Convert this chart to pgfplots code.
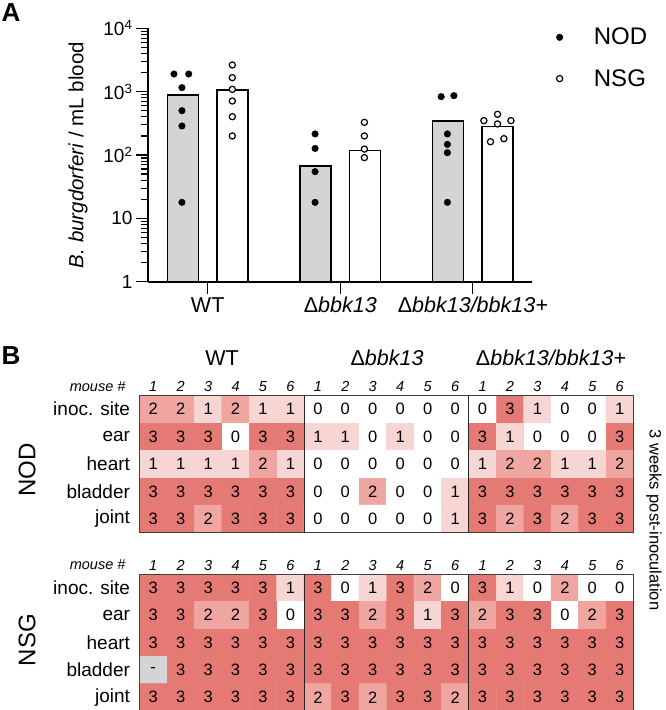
\documentclass[border=0pt]{standalone}
\usepackage{pgfplots}
\pgfplotsset{compat=1.18}
\usepackage{pgfplotstable}
\usepackage{fontspec}
\setmainfont{Liberation Sans}
\newcommand{\fs}[1]{\fontsize{#1}{#1}\selectfont}
\definecolor{barg}{RGB}{212,212,212}

\pgfplotstableread[row sep=\\]{
x y c l\\
1 1 2 2\\ 2 1 2 2\\ 3 1 1 1\\ 4 1 2 2\\ 5 1 1 1\\ 6 1 1 1\\ 7 1 0 0\\ 8 1 0 0\\ 9 1 0 0\\ 10 1 0 0\\ 11 1 0 0\\ 12 1 0 0\\ 13 1 0 0\\ 14 1 3 3\\ 15 1 1 1\\ 16 1 0 0\\ 17 1 0 0\\ 18 1 1 1\\
1 2 3 3\\ 2 2 3 3\\ 3 2 3 3\\ 4 2 0 0\\ 5 2 3 3\\ 6 2 3 3\\ 7 2 1 1\\ 8 2 1 1\\ 9 2 0 0\\ 10 2 1 1\\ 11 2 0 0\\ 12 2 0 0\\ 13 2 3 3\\ 14 2 1 1\\ 15 2 0 0\\ 16 2 0 0\\ 17 2 0 0\\ 18 2 3 3\\
1 3 1 1\\ 2 3 1 1\\ 3 3 1 1\\ 4 3 1 1\\ 5 3 2 2\\ 6 3 1 1\\ 7 3 0 0\\ 8 3 0 0\\ 9 3 0 0\\ 10 3 0 0\\ 11 3 0 0\\ 12 3 0 0\\ 13 3 1 1\\ 14 3 2 2\\ 15 3 2 2\\ 16 3 1 1\\ 17 3 1 1\\ 18 3 2 2\\
1 4 3 3\\ 2 4 3 3\\ 3 4 3 3\\ 4 4 3 3\\ 5 4 3 3\\ 6 4 3 3\\ 7 4 0 0\\ 8 4 0 0\\ 9 4 2 2\\ 10 4 0 0\\ 11 4 0 0\\ 12 4 1 1\\ 13 4 3 3\\ 14 4 3 3\\ 15 4 3 3\\ 16 4 3 3\\ 17 4 3 3\\ 18 4 3 3\\
1 5 3 3\\ 2 5 3 3\\ 3 5 2 2\\ 4 5 3 3\\ 5 5 3 3\\ 6 5 3 3\\ 7 5 0 0\\ 8 5 0 0\\ 9 5 0 0\\ 10 5 0 0\\ 11 5 0 0\\ 12 5 1 1\\ 13 5 3 3\\ 14 5 2 2\\ 15 5 3 3\\ 16 5 2 2\\ 17 5 3 3\\ 18 5 3 3\\
}\nodtab

\pgfplotstableread[row sep=\\]{
x y c l\\
1 1 3 3\\ 2 1 3 3\\ 3 1 3 3\\ 4 1 3 3\\ 5 1 3 3\\ 6 1 1 1\\ 7 1 3 3\\ 8 1 0 0\\ 9 1 1 1\\ 10 1 3 3\\ 11 1 2 2\\ 12 1 0 0\\ 13 1 3 3\\ 14 1 1 1\\ 15 1 0 0\\ 16 1 2 2\\ 17 1 0 0\\ 18 1 0 0\\
1 2 3 3\\ 2 2 3 3\\ 3 2 2 2\\ 4 2 2 2\\ 5 2 3 3\\ 6 2 0 0\\ 7 2 3 3\\ 8 2 3 3\\ 9 2 2 2\\ 10 2 3 3\\ 11 2 1 1\\ 12 2 3 3\\ 13 2 2 2\\ 14 2 3 3\\ 15 2 3 3\\ 16 2 0 0\\ 17 2 2 2\\ 18 2 3 3\\
1 3 3 3\\ 2 3 3 3\\ 3 3 3 3\\ 4 3 3 3\\ 5 3 3 3\\ 6 3 3 3\\ 7 3 3 3\\ 8 3 3 3\\ 9 3 3 3\\ 10 3 3 3\\ 11 3 3 3\\ 12 3 3 3\\ 13 3 3 3\\ 14 3 3 3\\ 15 3 3 3\\ 16 3 3 3\\ 17 3 3 3\\ 18 3 3 3\\
1 4 4 -\\ 2 4 3 3\\ 3 4 3 3\\ 4 4 3 3\\ 5 4 3 3\\ 6 4 3 3\\ 7 4 3 3\\ 8 4 3 3\\ 9 4 3 3\\ 10 4 3 3\\ 11 4 3 3\\ 12 4 3 3\\ 13 4 3 3\\ 14 4 3 3\\ 15 4 3 3\\ 16 4 3 3\\ 17 4 3 3\\ 18 4 3 3\\
1 5 3 3\\ 2 5 3 3\\ 3 5 3 3\\ 4 5 3 3\\ 5 5 3 3\\ 6 5 3 3\\ 7 5 2 2\\ 8 5 3 3\\ 9 5 2 2\\ 10 5 3 3\\ 11 5 3 3\\ 12 5 2 2\\ 13 5 3 3\\ 14 5 3 3\\ 15 5 3 3\\ 16 5 3 3\\ 17 5 3 3\\ 18 5 3 3\\
}\nsgtab

\pgfplotsset{
  heat/.style={
    scale only axis, width=494pt, height=137pt,
    xmin=0.5, xmax=18.5, ymin=0.5, ymax=5.5, y dir=reverse,
    enlargelimits=false, axis on top,
    axis line style={draw=black!75, line width=1pt},
    xtick={1,...,18},
    xticklabels={1,2,3,4,5,6,1,2,3,4,5,6,1,2,3,4,5,6},
    xticklabel pos=upper,
    ytick={1,...,5},
    yticklabels={inoc. site, ear, heart, bladder, joint},
    major tick length=0pt, tick style={draw=none},
    xticklabel style={font=\itshape\fs{14.5}},
    yticklabel style={font=\fs{19}, xshift=-6pt},
    extra x ticks={6.5,12.5}, extra x tick labels={},
    extra x tick style={grid=major, major grid style={draw=black!85, line width=1pt}},
    colormap={hm}{rgb255=(255,255,255) rgb255=(247,213,211) rgb255=(239,166,161) rgb255=(229,121,115) rgb255=(212,212,212)},
    colormap access=direct,
  }
}

\begin{document}
\begin{tikzpicture}
\path[use as bounding box] (0,0) rectangle (666pt,-710pt);

\node[font=\bfseries\fs{26}] at (11pt,-13pt) {A};
\node[font=\bfseries\fs{26}] at (11pt,-356pt) {B};

\begin{axis}[
  at={(148pt,-281.7pt)}, anchor=south west,
  scale only axis, width=384pt, height=253.4pt,
  ymode=log, ymin=1, ymax=10000,
  xmin=-0.45, xmax=2.446,
  axis x line*=bottom, axis y line*=left,
  axis line style={line width=1.6pt},
  tick align=outside,
  major tick length=12pt, minor tick length=7pt,
  tick style={line width=1.2pt, black},
  xtick={0,1,2},
  xticklabels={WT, Δ\textit{bbk13}, Δ\textit{bbk13/bbk13+}},
  xticklabel style={font=\fs{21.5}},
  ytick={1,10,100,1000,10000},
  yticklabels={1,10,10\textsuperscript{2},10\textsuperscript{3},10\textsuperscript{4}},
  yticklabel style={font=\fs{19}},
  ylabel={\textit{B. burgdorferi} / mL blood},
  ylabel style={font=\fs{20.5}, at={(axis description cs:-0.182,0.5)}, anchor=center},
  clip=false,
  legend style={at={(1.055,1.017)}, anchor=north west, draw=none, fill=none,
    font=\fs{24}, row sep=19pt, column sep=29pt},
  legend cell align=left,
]
\addplot[ybar, bar width=31pt, bar shift=0pt, fill=barg, draw=black, line width=1.5pt, forget plot]
  coordinates {(-0.186,886) (0.814,67) (1.814,344)};
\addplot[ybar, bar width=31pt, bar shift=0pt, fill=white, draw=black, line width=1.5pt, forget plot]
  coordinates {(0.186,1062) (1.186,117) (2.186,280)};
\addplot[only marks, mark=*, mark size=3.3pt, mark options={fill=black, draw=black}]
  coordinates {(-0.254,1900) (-0.143,1900) (-0.194,1157) (-0.194,501) (-0.194,287) (-0.194,17.9)
               (0.81,215) (0.81,127) (0.81,54.6) (0.81,17.9)
               (1.761,834) (1.857,865) (1.808,215) (1.808,147) (1.808,109) (1.808,17.9)};
\addlegendentry{NOD}
\addplot[only marks, mark=*, mark size=3.1pt, mark options={fill=white, draw=black, line width=1.2pt}]
  coordinates {(0.186,2637) (0.186,1664) (0.186,1088) (0.186,712) (0.186,403) (0.186,200)
               (1.182,328) (1.182,200) (1.182,124) (1.182,91)
               (2.083,349) (2.186,439) (2.287,349) (2.186,309) (2.133,162) (2.234,181)};
\addlegendentry{NSG}
\end{axis}

% Panel B headers
\node[font=\fs{21.5}] at (222pt,-358pt) {WT};
\node[font=\fs{21.5}] at (387pt,-358pt) {Δ\textit{bbk13}};
\node[font=\fs{21.5}] at (551pt,-358pt) {Δ\textit{bbk13/bbk13+}};

\begin{axis}[heat, at={(139.5pt,-395.5pt)}, anchor=north west]
\addplot[matrix plot*, mesh/cols=18, point meta=explicit] table[x=x, y=y, meta=c] {\nodtab};
\addplot[draw=none, mark=none, nodes near coords, nodes near coords align=center,
  point meta=explicit symbolic, every node near coord/.append style={font=\fs{16.5}, anchor=center}]
  table[x=x, y=y, meta=l] {\nodtab};
\end{axis}

\begin{axis}[heat, at={(139.5pt,-574pt)}, anchor=north west]
\addplot[matrix plot*, mesh/cols=18, point meta=explicit] table[x=x, y=y, meta=c] {\nsgtab};
\addplot[draw=none, mark=none, nodes near coords, nodes near coords align=center,
  point meta=explicit symbolic, every node near coord/.append style={font=\fs{16.5}, anchor=center}]
  table[x=x, y=y, meta=l] {\nsgtab};
\end{axis}

\node[font=\itshape\fs{14.5}, anchor=east] at (129pt,-386.5pt) {mouse \#};
\node[font=\itshape\fs{14.5}, anchor=east] at (129pt,-565pt) {mouse \#};
\node[font=\fs{24}, rotate=90] at (27pt,-470pt) {NOD};
\node[font=\fs{24}, rotate=90] at (27pt,-640pt) {NSG};
\node[font=\fs{16.5}, rotate=-90] at (654pt,-520pt) {3 weeks post-inoculation};
\end{tikzpicture}
\end{document}
